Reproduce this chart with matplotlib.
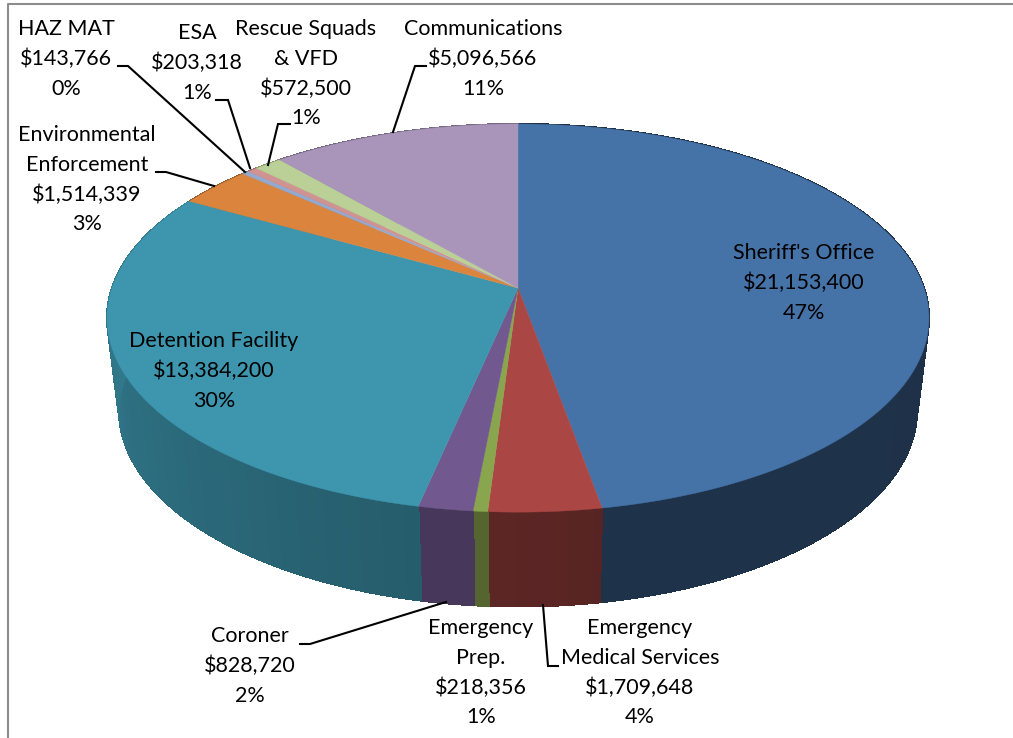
import numpy as np
import matplotlib
matplotlib.use("Agg")
import matplotlib.pyplot as plt
from matplotlib.collections import PolyCollection

plt.rcParams['font.family'] = ['Lato', 'DejaVu Sans']

names = ["Sheriff's Office", "Emergency\nMedical Services", "Emergency\nPrep.", "Coroner",
         "Detention Facility", "Environmental\nEnforcement", "HAZ MAT", "ESA",
         "Rescue Squads\n& VFD", "Communications"]
budget = [21153400, 1709648, 218356, 828720, 13384200, 1514339, 143766, 203318, 572500, 5096566]
shown_pct = [47, 4, 1, 2, 30, 3, 0, 1, 1, 11]
colors = ["#4572a7", "#aa4643", "#89a54e", "#71588f", "#3d96ae", "#db843d", "#93a9cf", "#d19392", "#bad096", "#a995b9"]
side_shade = [(.42, .44), (.52, .54), (.61, .61), (.63, .63), (.62, .87), (.7, .7), (.7, .7), (.7, .7), (.7, .7), (.7, .7)]

# label centre x, y of first line, in image pixels
label_at = [(804, 253), (640, 628), (481, 628), (250, 636), (214, 341), (87, 135), (66, 29), (197, 33), (306, 29), (483, 29)]
leaders = [None,
           [(543, 605), (548, 666), (558, 666)],
           None,
           [(300, 644), (310, 644), (446, 602)],
           None,
           [(156, 172), (166, 172), (214, 186)],
           [(118, 66), (128, 66), (245, 172)],
           [(216, 100), (228, 100), (250, 168)],
           [(290, 124), (278, 124), (268, 165)],
           [(426, 66), (415, 66), (393, 132)]]

CX, APEX_Y = 518, 288
K = 0.155


def rim(theta, scale_x=1.0, scale_y=1.0, drop=0):
    # theta clockwise from 12 o'clock, perspective projection of the pie disc
    x, z = np.sin(theta), np.cos(theta)
    d = 1 + K * z
    return CX + 406 * scale_x * x / d, APEX_Y + drop - 189.4 * scale_y * z / d


fig = plt.figure(figsize=(10.13, 7.38), dpi=100)
ax = fig.add_axes([0, 0, 1, 1])
ax.set_xlim(0, 1013); ax.set_ylim(738, 0); ax.axis("off")

# chart area border
ax.plot([8, 8, 1013], [738, 4, 4], color="#8c8c8c", lw=1.5)

edges = np.cumsum([0] + budget) / sum(budget) * 2 * np.pi
for i in range(len(budget)):
    rgb = np.array(matplotlib.colors.to_rgb(colors[i]))
    t = np.linspace(edges[i], edges[i + 1], max(3, int((edges[i + 1] - edges[i]) * 60)))
    xt, yt = rim(t)
    xb, yb = rim(t, 399 / 411, 196 / 194, 92)
    quads, cols = [], []
    for j in range(len(t) - 1):
        quads.append([(xt[j], yt[j]), (xt[j + 1], yt[j + 1]), (xb[j + 1], yb[j + 1]), (xb[j], yb[j])])
        f = np.interp(j, [0, len(t) - 2], side_shade[i])
        cols.append(rgb * f)
    # no antialiasing here, otherwise the strips show seams
    ax.add_collection(PolyCollection(quads, facecolors=cols, edgecolors=cols, linewidths=0.8, antialiaseds=False, zorder=1))

for i in range(len(budget)):
    t = np.linspace(edges[i], edges[i + 1], 200)
    xt, yt = rim(t)
    ax.fill(np.r_[CX, xt], np.r_[APEX_Y, yt], color=colors[i], lw=0.3, zorder=2)

for i, name in enumerate(names):
    ax.text(label_at[i][0], label_at[i][1] - 10, f"{name}\n${budget[i]:,}\n{shown_pct[i]}%", ha="center", va="top",
            fontsize=15.5, linespacing=1.6, color="black", zorder=4)
    if leaders[i]:
        ax.plot(*zip(*leaders[i]), color="black", lw=1.5, zorder=3, solid_joinstyle="miter")

fig.savefig("out.png", dpi=100, facecolor="white")
